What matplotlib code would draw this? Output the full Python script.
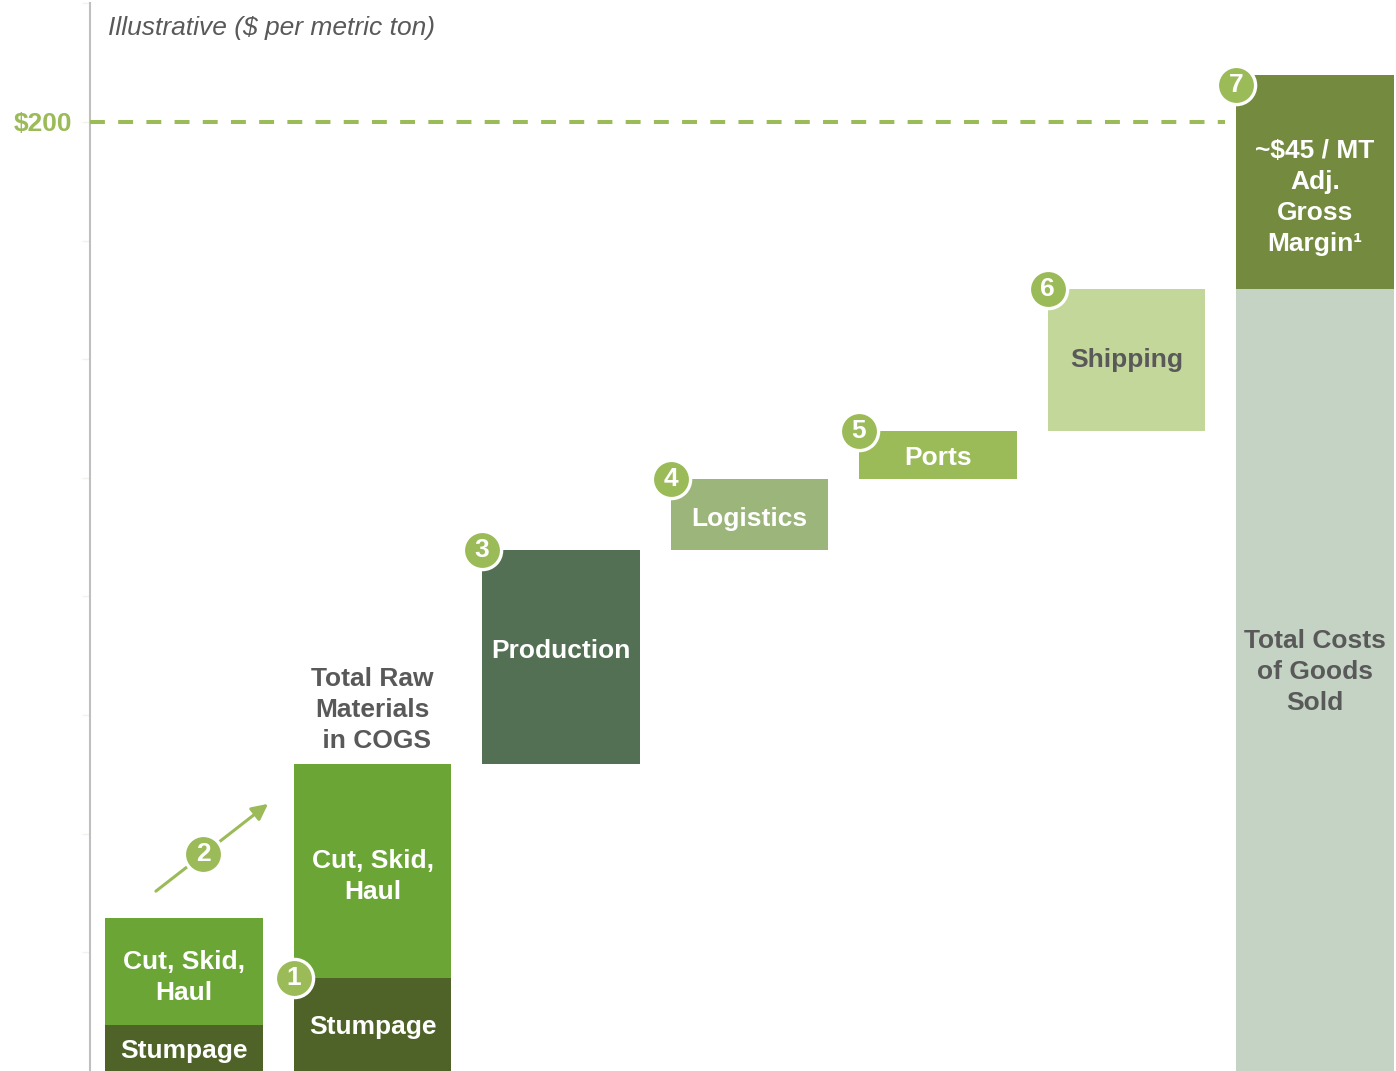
import numpy as np
import matplotlib.pyplot as plt

plt.rcParams["font.family"] = ["Liberation Sans", "DejaVu Sans"]

# $ per metric ton, read bottom-up
stumpage = [9.7, 19.6]          # current, target
cut_skid_haul = [22.5, 45.1]    # current, target
step_names = ["Production", "Logistics", "Ports", "Shipping"]
step_values = [45.1, 15.0, 10.1, 29.9]
margin = 45.0
reference_price = 200
tick_values = np.arange(25, 226, 25)

margin_label = "~$45 / MT\nAdj.\nGross\nMargin\u00b9"
cogs_label = "Total Costs\nof Goods\nSold"
raw_label = "Total Raw\nMaterials\n in COGS"
csh_label = "Cut, Skid,\nHaul"

C_STUMP = "#4f6228"
C_CSH = "#6aa536"
C_STEPS = ["#547054", "#9bb57a", "#9bbb59", "#c4d79b"]
C_COGS = "#c4d3c4"
C_MARGIN = "#738a3f"
C_BADGE = "#9bbb59"
C_GREY = "#595959"
FS = 19
LS = 1.37
W = 0.838


def badge(ax, x, y, n, dy=0):
    ax.plot(x, y + dy, "o", ms=27.5, mfc=C_BADGE, mec="white", mew=2.4,
            clip_on=False, zorder=5)
    ax.text(x, y + dy, str(n), ha="center", va="center", color="white",
            fontsize=19, fontweight="bold", zorder=6)


def label(ax, x, y, s, color="white", dy=-2):
    ax.annotate(s, xy=(x, y), xytext=(0, dy), textcoords="offset points",
                ha="center", va="center", color=color, fontsize=FS,
                fontweight="bold", linespacing=LS, zorder=4)


def main():
    fig = plt.figure(figsize=(13.96, 10.71), dpi=100)
    ax = fig.add_axes([90 / 1396, 0, 1306 / 1396, 1])
    ax.set_xlim(-0.4987, 6.4297)
    ax.set_ylim(0, 225.7)

    x = np.arange(7)

    # two raw-material stacks
    for i in range(2):
        ax.bar(x[i], stumpage[i], width=W, color=C_STUMP)
        ax.bar(x[i], cut_skid_haul[i], bottom=stumpage[i], width=W, color=C_CSH)
        label(ax, x[i], stumpage[i] / 2, "Stumpage")
        label(ax, x[i], stumpage[i] + cut_skid_haul[i] / 2, csh_label, dy=-4)

    raw_total = stumpage[1] + cut_skid_haul[1]
    ax.annotate(raw_label, xy=(x[1], raw_total), xytext=(0, 8),
                textcoords="offset points", ha="center", va="bottom",
                color=C_GREY, fontsize=FS, fontweight="bold", linespacing=LS)

    # floating cost steps
    bottoms = raw_total + np.concatenate([[0], np.cumsum(step_values)[:-1]])
    nudges = [4, -3, -2, 0]
    for j, (name, val, base) in enumerate(zip(step_names, step_values, bottoms)):
        xi = x[2 + j]
        ax.bar(xi, val, bottom=base, width=W, color=C_STEPS[j])
        txt_color = C_GREY if name == "Shipping" else "white"
        label(ax, xi, base + val / 2, name, color=txt_color, dy=nudges[j])
        badge(ax, xi - W / 2, base + val, 3 + j)

    # total column
    cogs = raw_total + sum(step_values)
    ax.bar(x[6], cogs, width=W, color=C_COGS)
    ax.bar(x[6], margin, bottom=cogs, width=W, color=C_MARGIN)
    label(ax, x[6], cogs / 2, cogs_label, color=C_GREY, dy=6)
    label(ax, x[6], cogs + margin / 2, margin_label, dy=-11)

    badge(ax, x[1] - W / 2, stumpage[1], 1)
    badge(ax, x[6] - W / 2, cogs + margin, 7, dy=-2)

    # step-up arrow between current and target raw costs
    start = (x[0] - 0.149, stumpage[0] + cut_skid_haul[0] + 5.7)
    end = (x[1] - 0.554, raw_total - 8.4)
    ax.annotate("", xy=end, xytext=start,
                arrowprops=dict(arrowstyle="-|>", color=C_BADGE, lw=2.2,
                                mutation_scale=24, shrinkA=0, shrinkB=0))
    t = 0.42
    badge(ax, start[0] + t * (end[0] - start[0]),
          start[1] + t * (end[1] - start[1]), 2)

    # reference price line
    ax.plot([ax.get_xlim()[0], x[6] - W / 2 - 0.06], [reference_price] * 2,
            color=C_BADGE, lw=2.9, dashes=(3.7, 3.3), zorder=3)

    ax.set_xticks([])
    ax.set_yticks(tick_values)
    ax.set_yticklabels(["$200" if v == reference_price else "" for v in tick_values])
    ax.tick_params(axis="y", length=6, width=1, color="#f2f2ec", pad=7,
                   labelsize=FS, labelcolor=C_BADGE)
    for lab in ax.get_yticklabels():
        lab.set_fontweight("bold")
    for side in ["top", "right", "bottom"]:
        ax.spines[side].set_visible(False)
    ax.spines["left"].set_color("#bfbfbf")
    ax.spines["left"].set_linewidth(1.5)
    ax.spines["left"].set_bounds(0, 225)

    ax.text(18 / 1306, 1 - 28 / 1071, "Illustrative ($ per metric ton)",
            transform=ax.transAxes, ha="left", va="center", fontsize=FS,
            style="italic", color=C_GREY)

    fig.savefig("out.png", dpi=100)


if __name__ == "__main__":
    main()
